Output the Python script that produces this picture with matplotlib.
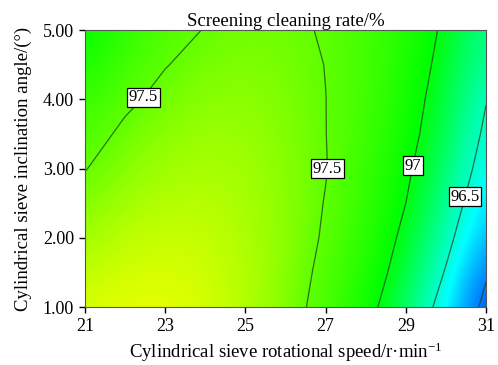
import numpy as np
import matplotlib
matplotlib.use("Agg")
import matplotlib.pyplot as plt
from matplotlib.colors import LinearSegmentedColormap

plt.rcParams['font.family'] = ['Liberation Serif', 'DejaVu Serif']
plt.rcParams['font.size'] = 13
plt.rcParams['mathtext.default'] = 'regular'

# speed (r/min) and inclination angle (deg) grid
speed = [21, 22, 23, 24, 25, 26, 27, 28, 29, 30, 31]
angle = [1.0, 1.5, 2.0, 2.5, 3.0, 3.5, 4.0, 4.5, 5.0]
rate = [
    [97.91, 97.96, 97.96, 97.90, 97.79, 97.62, 97.39, 97.10, 96.77, 96.37, 95.92],
    [97.82, 97.89, 97.91, 97.88, 97.79, 97.64, 97.43, 97.17, 96.86, 96.48, 96.03],
    [97.72, 97.82, 97.86, 97.84, 97.77, 97.65, 97.47, 97.23, 96.93, 96.58, 96.18],
    [97.61, 97.73, 97.79, 97.80, 97.75, 97.65, 97.49, 97.27, 97.00, 96.67, 96.28],
    [97.49, 97.64, 97.72, 97.75, 97.72, 97.64, 97.51, 97.30, 97.05, 96.74, 96.38],
    [97.39, 97.55, 97.65, 97.70, 97.69, 97.62, 97.503, 97.33, 97.10, 96.81, 96.45],
    [97.27, 97.45, 97.57, 97.64, 97.65, 97.60, 97.502, 97.35, 97.13, 96.86, 96.51],
    [97.15, 97.35, 97.49, 97.58, 97.61, 97.58, 97.496, 97.36, 97.16, 96.91, 96.61],
    [97.03, 97.25, 97.41, 97.51, 97.56, 97.55, 97.48, 97.36, 97.19, 96.95, 96.67],
]
levels = [96.0, 96.5, 97.0, 97.5]
label_pos = [(22.3, 4.1), (27.0, 3.0), (29.1, 3.05), (30.45, 2.6)]

vmin, vmax = 95.75, 98.05
stops = [(95.75, "#0000ff"), (96.38, "#00ffff"), (97.02, "#00ff00"),
         (97.5, "#60ff00"), (97.75, "#a8ff00"), (98.05, "#ffff00")]
cmap = LinearSegmentedColormap.from_list(
    "origin", [((v - vmin) / (vmax - vmin), c) for v, c in stops])

fig = plt.figure(figsize=(4.98, 3.65), dpi=100)
ax = fig.add_axes([0.1707, 0.1589, 0.8052, 0.7589])

z = np.array(rate)
ax.imshow(z, origin='lower', cmap=cmap, vmin=vmin, vmax=vmax,
          extent=[20.5, 31.5, 0.75, 5.25], aspect='auto', interpolation='bicubic')

cs = ax.contour(speed, angle, z, levels=levels, colors='#1f3f1f',
                linewidths=0.9, alpha=0.75)
lbls = ax.clabel(cs, fmt='%g', fontsize=12, manual=label_pos, inline=False)
for t in lbls:
    t.set_rotation(0)
    t.set_color('black')
    t.set_fontsize(12)
    t.set_bbox(dict(boxstyle='square,pad=0.1', fc='white', ec='black', lw=0.9))

ax.set_xlim(21, 31)
ax.set_ylim(1, 5)
ax.set_xticks([21, 23, 25, 27, 29, 31])
ax.set_yticks([1, 2, 3, 4, 5])
ax.set_yticklabels(['1.00', '2.00', '3.00', '4.00', '5.00'])
ax.tick_params(direction='out', length=4, width=1, pad=4, labelsize=13)
for s in ax.spines.values():
    s.set_linewidth(0.8)
    s.set_color('#555555')

ax.set_title('Screening cleaning rate/%', fontsize=13.5, pad=3)
ax.set_xlabel('Cylindrical sieve rotational speed/r·min$^{-1}$',
              fontsize=13.5, labelpad=4)
ax.set_ylabel('Cylindrical sieve inclination angle/(°)', fontsize=13.5,
              labelpad=8)

fig.savefig('out.png', dpi=100)
